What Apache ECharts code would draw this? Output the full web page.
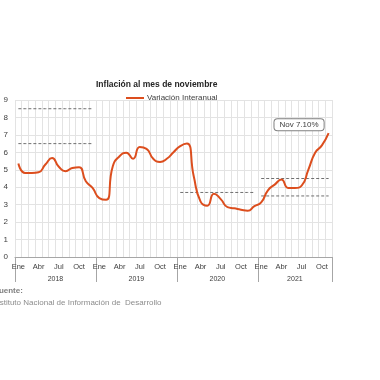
<!DOCTYPE html>
<html><head><meta charset="utf-8">
<script src="https://cdn.jsdelivr.net/npm/echarts@6/dist/echarts.min.js"></script>
<style>html,body{margin:0;padding:0;background:#fff}#c{width:380px;height:380px}</style>
</head><body><div id="c"></div>
<script>
const monthNames = ['Ene','Feb','Mar','Abr','May','Jun','Jul','Ago','Sep','Oct','Nov','Dic'];
const years = ['2018','2019','2020','2021'];
const monthsPerYear = [12,12,12,11];
const inflation2018 = [5.36,4.82,4.82,4.86,5.3,5.67,5.17,4.92,5.1,5.15,4.34,3.96];
const inflation2019 = [3.38,3.28,5.2,5.78,5.98,5.63,6.3,6.2,5.63,5.45,5.63,6.01];
const inflation2020 = [6.36,6.51,4.63,3.19,2.94,3.63,3.32,2.86,2.79,2.71,2.65,2.92];
const inflation2021 = [3.13,3.82,4.15,4.44,3.96,3.96,4.09,5.01,5.97,6.4,7.10];
const refLines = [
  {year:'2018', value:8.5},
  {year:'2018', value:6.5},
  {year:'2020', value:3.7},
  {year:'2021', value:4.5},
  {year:'2021', value:3.5}
];
const yTicks = [0,1,2,3,4,5,6,7,8,9];
const annotationText = 'Nov 7.10%';

const categories = [];
const yearOfCat = [];
years.forEach((y,yi)=>{ for(let m=0;m<monthsPerYear[yi];m++){ categories.push(monthNames[m]+'-'+y.slice(2)); yearOfCat.push(y);} });
const values = [].concat(inflation2018,inflation2019,inflation2020,inflation2021);
const yearStarts = []; let acc=0; monthsPerYear.forEach(n=>{yearStarts.push(acc); acc+=n;}); yearStarts.push(acc);
const yearMids = monthsPerYear.map((n,i)=>yearStarts[i]+n/2);

const lineColor = '#DC4E1E';
const refSeries = refLines.map(r=>({
  type:'line', name:'ref', silent:true, symbol:'none', smooth:false,
  data: yearOfCat.map(y=> y===r.year ? r.value : null),
  lineStyle:{color:'#6f6f6f', width:1, type:[3,2]}, z:1
}));

const chart = echarts.init(document.getElementById('c'), null, {renderer:'canvas'});
chart.setOption({
  animation:false,
  title:{text:'Inflación al mes de noviembre', left:91, top:75,
    textStyle:{fontFamily:'Liberation Sans, Arial', fontWeight:'bold', fontSize:8.5, color:'#262626'}},
  legend:{data:['Variación Interanual'], left:121, top:89, itemWidth:18, itemHeight:2, itemGap:4,
    icon:'rect',
    textStyle:{fontFamily:'Liberation Sans, Arial', fontSize:8, color:'#404040', padding:[0,0,0,-2]}},
  grid:{left:15, right:48, top:100, bottom:123, containLabel:false},
  xAxis:[{
    type:'category', data:categories, boundaryGap:true,
    axisLine:{show:true, lineStyle:{color:'#a6a6a6', width:1}},
    axisTick:{show:false},
    axisLabel:{interval:(i)=> i%3===0, formatter:(v)=>v.split('-')[0], fontFamily:'Liberation Sans, Arial', fontSize:7.5, color:'#404040', margin:6},
    splitLine:{show:true, interval:0, lineStyle:{color:'#e3e3e3', width:1}}
  },{
    type:'value', min:0, max:categories.length, position:'bottom',
    axisLine:{show:false},
    axisTick:{show:true, customValues:yearStarts, length:25, inside:false, lineStyle:{color:'#a6a6a6', width:1}},
    axisLabel:{show:true, customValues:yearMids, margin:19, formatter:(v)=>{const i=yearMids.indexOf(v); return i>=0?years[i]:'';},
      fontFamily:'Liberation Sans, Arial', fontSize:7, color:'#404040'},
    splitLine:{show:false}
  }],
  yAxis:{type:'value', min:yTicks[0], max:yTicks[yTicks.length-1], interval:1,
    axisLine:{show:false}, axisTick:{show:false},
    axisLabel:{fontFamily:'Liberation Sans, Arial', fontSize:8, color:'#404040', margin:7},
    splitLine:{show:true, lineStyle:{color:'#e3e3e3', width:1}}},
  series:[{
    type:'line', name:'Variación Interanual', data:values, smooth:0.55, symbol:'none', showSymbol:false,
    lineStyle:{color:lineColor, width:2}, itemStyle:{color:lineColor}, z:3,
    markPoint:{symbol:'circle', symbolSize:0, silent:true,
      data:[{coord:[categories[categories.length-1], values[values.length-1]]}],
      label:{show:true, formatter:annotationText, position:[0,0], align:'right', verticalAlign:'bottom', offset:[-5,-3],
        fontFamily:'Liberation Sans, Arial', fontSize:8, color:'#404040',
        backgroundColor:'#fff', borderColor:'#7f7f7f', borderWidth:1, borderRadius:3, padding:[2,5,1,5]}}
  }].concat(refSeries),
  graphic:[
    {type:'text', left:-6, top:287, style:{text:'Fuente:', font:'bold 8px "Liberation Sans", Arial', fill:'#7f7f7f'}},
    {type:'text', left:-7, top:299, style:{text:'Instituto Nacional de Información de  Desarrollo', font:'8px "Liberation Sans", Arial', fill:'#8c8c8c'}}
  ]
});
</script></body></html>
